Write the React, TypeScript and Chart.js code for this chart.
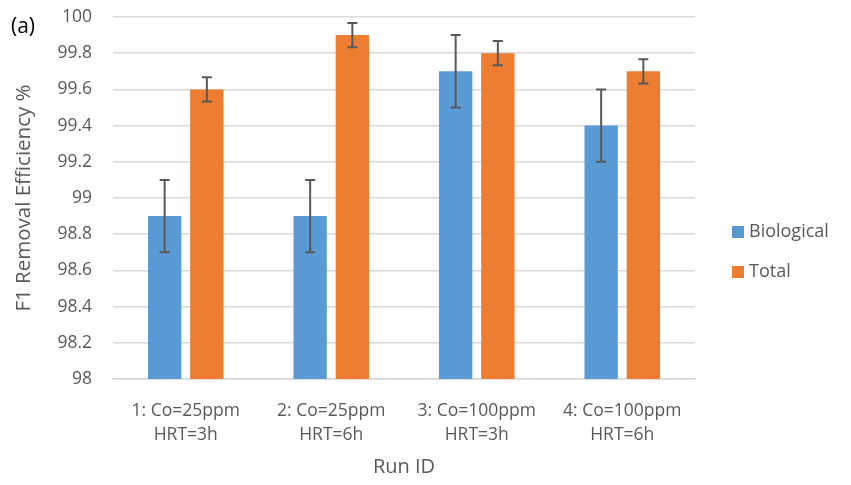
import React, { useEffect, useRef } from "react";
import { Chart, registerables } from "chart.js";

Chart.register(...registerables);

const categories: string[][] = [
  ["1: Co=25ppm", "HRT=3h"],
  ["2: Co=25ppm", "HRT=6h"],
  ["3: Co=100ppm", "HRT=3h"],
  ["4: Co=100ppm", "HRT=6h"],
];
const biological = [98.9, 98.9, 99.7, 99.4];
const biologicalErr = [0.2, 0.2, 0.2, 0.2];
const total = [99.6, 99.9, 99.8, 99.7];
const totalErr = [0.067, 0.067, 0.067, 0.067];
const yTicks = [98, 98.2, 98.4, 98.6, 98.8, 99, 99.2, 99.4, 99.6, 99.8, 100];

const FONT = "'Open Sans', 'Noto Sans', sans-serif";
const TXT = "#595959";

const errorBarPlugin = {
  id: "errorBars",
  afterDatasetsDraw(chart: any) {
    const ctx = chart.ctx;
    const y = chart.scales.y;
    const errs = [biologicalErr, totalErr];
    ctx.save();
    ctx.strokeStyle = "#595959";
    ctx.lineWidth = 2;
    chart.data.datasets.forEach((ds: any, di: number) => {
      const meta = chart.getDatasetMeta(di);
      meta.data.forEach((bar: any, i: number) => {
        const v = ds.data[i];
        const e = errs[di][i];
        const x = bar.x;
        const yT = y.getPixelForValue(v + e);
        const yB = y.getPixelForValue(v - e);
        ctx.beginPath();
        ctx.moveTo(x, yT);
        ctx.lineTo(x, yB);
        ctx.moveTo(x - 5, yT);
        ctx.lineTo(x + 5, yT);
        ctx.moveTo(x - 5, yB);
        ctx.lineTo(x + 5, yB);
        ctx.stroke();
      });
    });
    // "(a)" label
    ctx.fillStyle = "#000";
    ctx.font = `21px ${FONT}`;
    ctx.textBaseline = "middle";
    ctx.textAlign = "left";
    ctx.fillText("(a)", 11, 27);
    // custom legend
    const legendX = 732;
    const legendY = [232, 272];
    ctx.font = `18px ${FONT}`;
    chart.data.datasets.forEach((ds: any, di: number) => {
      const cy = legendY[di];
      ctx.fillStyle = ds.backgroundColor;
      ctx.fillRect(legendX, cy - 6, 12, 12);
      ctx.fillStyle = TXT;
      ctx.fillText(ds.label, legendX + 17, cy);
    });
    ctx.restore();
  },
};

export default function App() {
  const ref = useRef<HTMLCanvasElement>(null);
  useEffect(() => {
    document.body.style.margin = "0";
    const chart = new Chart(ref.current!, {
      type: "bar",
      data: {
        labels: categories,
        datasets: [
          {
            label: "Biological",
            data: biological,
            backgroundColor: "#5b9bd5",
            borderWidth: 0,
            barPercentage: 0.79,
            categoryPercentage: 0.58,
          },
          {
            label: "Total",
            data: total,
            backgroundColor: "#ed7d31",
            borderWidth: 0,
            barPercentage: 0.79,
            categoryPercentage: 0.58,
          },
        ],
      },
      options: {
        responsive: false,
        animation: false,
        layout: { padding: { top: 17, right: 156, left: 5, bottom: 0 } },
        plugins: {
          tooltip: { enabled: false },
          legend: { display: false },
        },
        scales: {
          x: {
            grid: { display: false },
            border: { display: true, color: "#d9d9d9", width: 1.5 },
            ticks: {
              color: TXT,
              font: { family: FONT, size: 17.5, lineHeight: 1.37 },
              maxRotation: 0,
              autoSkip: false,
              padding: 12,
            },
            title: {
              display: true,
              text: "Run ID",
              color: TXT,
              font: { family: FONT, size: 20 },
              padding: { top: 4, bottom: 6 },
            },
            afterFit: (s: any) => {
              s.height = 106;
              s.paddingLeft = 0;
              s.paddingRight = 0;
              s.paddingTop = 0;
              s.paddingBottom = 0;
            },
          },
          y: {
            min: 98,
            max: 100,
            afterBuildTicks: (s: any) => {
              s.ticks = yTicks.map((v) => ({ value: v }));
            },
            grid: { color: "#d9d9d9", lineWidth: 1.5, drawTicks: false },
            border: { display: false },
            ticks: {
              color: TXT,
              font: { family: FONT, size: 17.5 },
              padding: 21,
              callback: (v: any) => String(Math.round(Number(v) * 10) / 10),
            },
            title: {
              display: true,
              text: "F1 Removal Efficiency %",
              color: TXT,
              font: { family: FONT, size: 20.5 },
              padding: { top: 7, bottom: 4 },
            },
            afterFit: (s: any) => {
              s.width = 108;
              s.paddingTop = 0;
              s.paddingBottom = 0;
              s.paddingLeft = 0;
              s.paddingRight = 0;
            },
          },
        },
      },
      plugins: [errorBarPlugin],
    });
    return () => chart.destroy();
  }, []);
  return (
    <div style={{ width: 851, height: 485, background: "#fff" }}>
      <canvas ref={ref} width={851} height={485} />
    </div>
  );
}
